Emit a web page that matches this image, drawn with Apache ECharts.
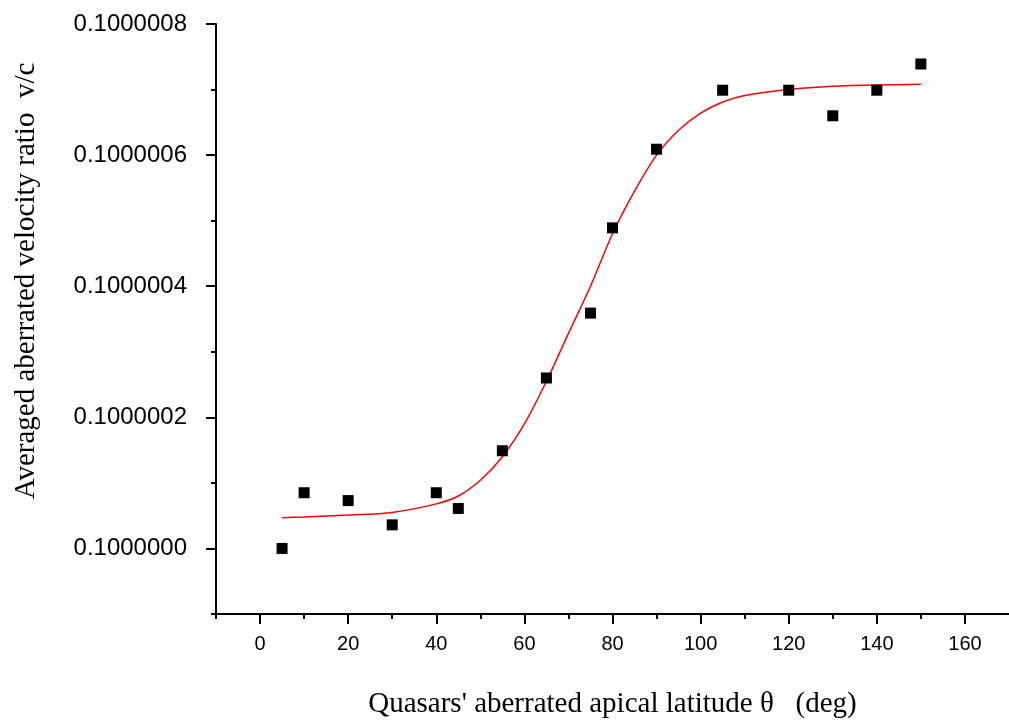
<!DOCTYPE html>
<html>
<head>
<meta charset="utf-8">
<script src="https://cdn.jsdelivr.net/npm/echarts@6/dist/echarts.min.js"></script>
<style>
html,body{margin:0;padding:0;background:#fff;}
#chart{width:1009px;height:724px;}
</style>
</head>
<body>
<div id="chart"></div>
<script>
// Measured data (angle in deg, averaged v/c)
const thetaPoints = [5, 10, 20, 30, 40, 45, 55, 65, 75, 80, 90, 105, 120, 130, 140, 150];
const ratioPoints = [0.1000000, 0.100000085, 0.100000073, 0.100000036, 0.100000085, 0.100000061,
                     0.100000149, 0.100000260, 0.100000359, 0.100000489, 0.100000609, 0.100000699,
                     0.100000699, 0.100000660, 0.100000699, 0.100000739];
// Fitted curve
const thetaFit = [5, 10, 20, 30, 40, 45, 50, 55, 60, 65, 70, 75, 80, 85, 90, 95, 100, 105, 110, 120, 130, 140, 150];
const ratioFit = [0.100000047, 0.100000048, 0.100000051, 0.100000055, 0.100000068, 0.100000080,
                  0.100000104, 0.100000140, 0.100000190, 0.100000255, 0.100000328, 0.100000400,
                  0.100000480, 0.100000545, 0.100000600, 0.100000638, 0.100000664, 0.100000681,
                  0.100000691, 0.100000700, 0.100000705, 0.100000707, 0.100000708];
// Ticks
const xMajorTicks = [0, 20, 40, 60, 80, 100, 120, 140, 160];
const xMinorTicks = [-10, 10, 30, 50, 70, 90, 110, 130, 150];
const yMajorTicks = [0.1000000, 0.1000002, 0.1000004, 0.1000006, 0.1000008];
const yMinorTicks = [0.0999999, 0.1000001, 0.1000003, 0.1000005, 0.1000007];

const chart = echarts.init(document.getElementById('chart'), null, {renderer: 'canvas'});
const X_MIN = -10, X_MAX = 170, Y_MIN = 0.0999999, Y_MAX = 0.1000008;
const sans = 'Liberation Sans, Arial, sans-serif';
const serif = 'Liberation Serif, Times New Roman, serif';

const option = {
  backgroundColor: '#fff',
  animation: false,
  grid: {left: 216, top: 24, width: 794, height: 593, containLabel: false},
  xAxis: [
    {
      type: 'value', min: X_MIN, max: X_MAX,
      name: "Quasars' aberrated apical latitude \u03b8   (deg)",
      nameLocation: 'middle', nameGap: 76,
      nameTextStyle: {fontFamily: serif, fontSize: 29, color: '#000'},
      axisLine: {show: true, onZero: false, lineStyle: {color: '#000', width: 2}},
      axisTick: {show: true, inside: false, length: 10, customValues: xMajorTicks, lineStyle: {color: '#000', width: 2}},
      axisLabel: {show: true, customValues: xMajorTicks, margin: 20, fontFamily: sans, fontSize: 20, color: '#000'},
      splitLine: {show: false}
    },
    {
      type: 'value', min: X_MIN, max: X_MAX, position: 'bottom',
      axisLine: {show: false, onZero: false},
      axisTick: {show: true, inside: false, length: 5, customValues: xMinorTicks, lineStyle: {color: '#000', width: 2}},
      axisLabel: {show: false},
      splitLine: {show: false}
    }
  ],
  yAxis: [
    {
      type: 'value', min: Y_MIN, max: Y_MAX, scale: true,
      name: 'Averaged aberrated velocity ratio  v/c',
      nameLocation: 'middle', nameGap: 175, nameRotate: 90,
      nameTextStyle: {fontFamily: serif, fontSize: 29, color: '#000', padding: [0, 0, 0, 76]},
      axisLine: {show: true, onZero: false, lineStyle: {color: '#000', width: 2}},
      axisTick: {show: true, inside: false, length: 10, customValues: yMajorTicks, lineStyle: {color: '#000', width: 2}},
      axisLabel: {show: true, customValues: yMajorTicks, margin: 29, fontFamily: sans, fontSize: 24, color: '#000',
                  formatter: v => Number(v).toFixed(7)},
      splitLine: {show: false}
    },
    {
      type: 'value', min: Y_MIN, max: Y_MAX, scale: true, position: 'left',
      axisLine: {show: false, onZero: false},
      axisTick: {show: true, inside: false, length: 5, customValues: yMinorTicks, lineStyle: {color: '#000', width: 2}},
      axisLabel: {show: false},
      splitLine: {show: false}
    }
  ],
  series: [
    {
      type: 'line', xAxisIndex: 0, yAxisIndex: 0,
      data: thetaFit.map((t, i) => [t, ratioFit[i]]),
      showSymbol: false, smooth: 0.3,
      lineStyle: {color: '#ff0000', width: 1.5},
      z: 2
    },
    {
      type: 'scatter', xAxisIndex: 0, yAxisIndex: 0,
      data: thetaPoints.map((t, i) => [t, ratioPoints[i]]),
      symbol: 'rect', symbolSize: 11,
      itemStyle: {color: '#000', opacity: 1},
      z: 3
    }
  ]
};
chart.setOption(option);
</script>
</body>
</html>
